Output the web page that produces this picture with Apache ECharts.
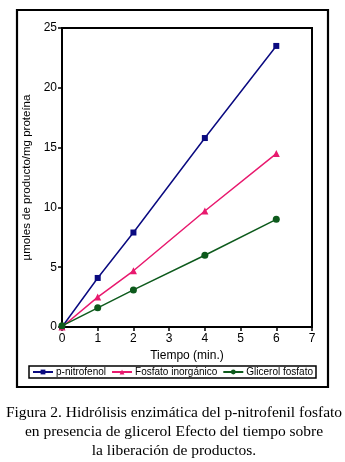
<!DOCTYPE html>
<html>
<head>
<meta charset="utf-8">
<script src="https://cdn.jsdelivr.net/npm/echarts@6/dist/echarts.min.js"></script>
<style>
  html, body { margin: 0; padding: 0; background: #fff; }
  #chart { width: 345px; height: 462px; }
</style>
</head>
<body>
<div id="chart"></div>
<script>
// datos
const tiempos = [0, 1, 2, 4, 6];
const pNitrofenol = [0, 4.1, 7.9, 15.8, 23.5];
const fosfatoInorg = [0, 2.5, 4.7, 9.7, 14.5];
const glicerolFosfato = [0.1, 1.6, 3.1, 6.0, 9.0];
const nombres = ["p-nitrofenol", "Fosfato inorgánico", "Glicerol fosfato"];
const colores = ["#0a0a80", "#e8196e", "#0d5a1c"];
const leyenda =
  "Figura 2. Hidrólisis enzimática del p-nitrofenil fosfato\nen presencia de glicerol Efecto del tiempo sobre\nla liberación de productos.";

const pares = (ys) => tiempos.map((t, i) => [t, ys[i]]);

const chart = echarts.init(document.getElementById("chart"));

const serie = (nombre, datos, color, simbolo, tam) => ({
  name: nombre,
  type: "line",
  data: pares(datos),
  symbol: simbolo,
  symbolSize: tam,
  showSymbol: true,
  lineStyle: { color: color, width: 1.5 },
  itemStyle: { color: color },
});

const fuente = "Arial, Liberation Sans";

chart.setOption({
  animation: false,
  graphic: [
    {
      type: "rect",
      shape: { x: 17, y: 10, width: 311, height: 377 },
      style: { fill: "none", stroke: "#000", lineWidth: 2.2 },
      silent: true,
    },
    {
      type: "text",
      x: 174,
      y: 403,
      silent: true,
      style: {
        text: leyenda,
        align: "center",
        verticalAlign: "top",
        font: "15.5px 'Liberation Serif'",
        fill: "#000",
        lineHeight: 19,
      },
    },
  ],
  legend: {
    data: nombres,
    left: 29,
    top: 366,
    orient: "horizontal",
    padding: [1, 3, 1, 3],
    itemGap: 5,
    itemWidth: 20,
    itemHeight: 6,
    borderColor: "#000",
    borderWidth: 1.5,
    textStyle: { fontFamily: fuente, fontSize: 10, color: "#000", padding: [0, 0, 0, -2] },
  },
  grid: { left: 62, right: 33, top: 28, bottom: 135, show: true, borderColor: "#000", borderWidth: 2 },
  xAxis: {
    type: "value",
    min: 0,
    max: 7,
    interval: 1,
    name: "Tiempo (min.)",
    nameLocation: "middle",
    nameGap: 22,
    nameTextStyle: { fontFamily: fuente, fontSize: 12, color: "#000" },
    axisLine: { lineStyle: { color: "#000", width: 2 } },
    axisTick: { show: true, length: 4, lineStyle: { color: "#000", width: 1.5 } },
    axisLabel: { fontFamily: fuente, fontSize: 12, color: "#000", margin: 6 },
    splitLine: { show: false },
  },
  yAxis: {
    type: "value",
    min: 0,
    max: 25,
    interval: 5,
    name: "µmoles de producto/mg proteína",
    nameLocation: "middle",
    nameRotate: 90,
    nameGap: 27,
    nameTextStyle: { fontFamily: fuente, fontSize: 11.5, color: "#000" },
    axisLine: { show: true, lineStyle: { color: "#000", width: 2 } },
    axisTick: { show: true, length: 4, lineStyle: { color: "#000", width: 1.5 } },
    axisLabel: { fontFamily: fuente, fontSize: 12, color: "#000", margin: 5 },
    splitLine: { show: false },
  },
  series: [
    serie(nombres[0], pNitrofenol, colores[0], "rect", 6),
    serie(nombres[1], fosfatoInorg, colores[1], "triangle", 7),
    serie(nombres[2], glicerolFosfato, colores[2], "circle", 7),
  ],
});
</script>
</body>
</html>
